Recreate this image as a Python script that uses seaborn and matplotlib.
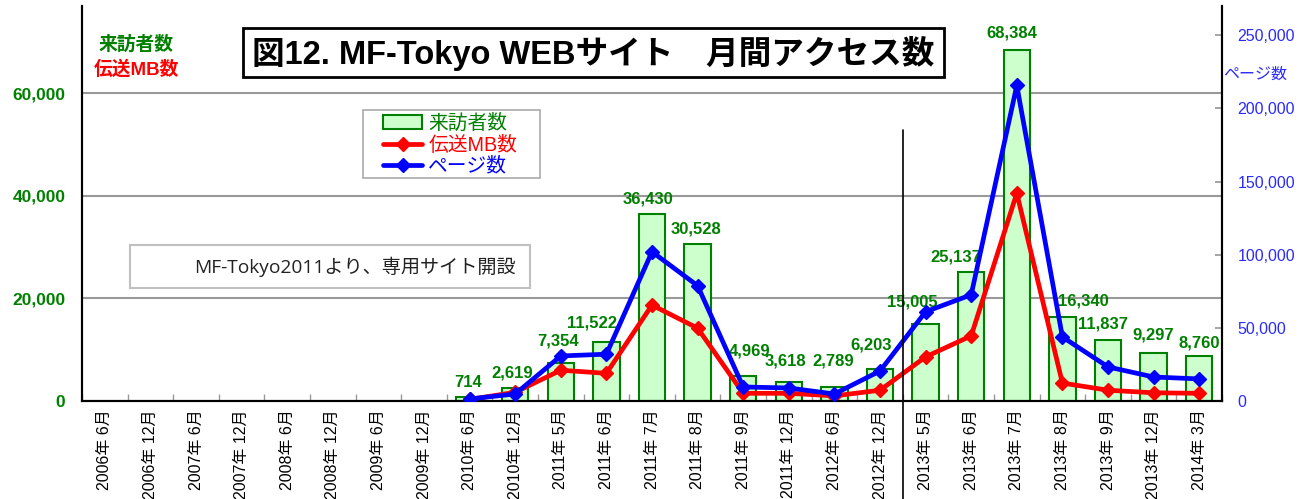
import numpy as np
import pandas as pd
import matplotlib
matplotlib.use("Agg")
import matplotlib.pyplot as plt
import matplotlib.transforms as mtransforms
from matplotlib.patches import Rectangle, Patch
from matplotlib.lines import Line2D
from matplotlib.ticker import FuncFormatter, FixedLocator
import seaborn as sns

# ---------------- data ----------------
categories = ["2006年 6月", "2006年 12月", "2007年 6月", "2007年 12月", "2008年 6月",
              "2008年 12月", "2009年 6月", "2009年 12月", "2010年 6月", "2010年 12月",
              "2011年 5月", "2011年 6月", "2011年 7月", "2011年 8月", "2011年 9月",
              "2011年 12月", "2012年 6月", "2012年 12月", "2013年 5月", "2013年 6月",
              "2013年 7月", "2013年 8月", "2013年 9月", "2013年 12月", "2014年 3月"]
visitors = [np.nan] * 8 + [714, 2619, 7354, 11522, 36430, 30528, 4969, 3618, 2789, 6203,
                           15005, 25137, 68384, 16340, 11837, 9297, 8760]
transfer_mb = [np.nan] * 8 + [300, 1700, 6000, 5400, 18700, 14200, 1500, 1500, 1000, 2100,
                              8600, 12700, 40500, 3500, 2100, 1600, 1500]
page_views = [np.nan] * 8 + [1400, 4800, 30800, 32000, 102000, 78800, 9600, 8900, 4800, 20500,
                             61000, 72600, 215700, 43800, 23300, 16400, 15100]
left_ticks = [0, 20000, 40000, 60000]
right_ticks = [0, 50000, 100000, 150000, 200000, 250000]

title_text = "図12. MF-Tokyo WEBサイト　月間アクセス数"
note_text = "MF-Tokyo2011より、専用サイト開設"
legend_labels = ["来訪者数", "伝送MB数", "ページ数"]

# label offsets (pixels) for the value labels, purely presentational
label_offsets = [(0, 0)] * 8 + [(-1, 15), (-3, 15), (-3, 22), (-14, 19), (-4, 15), (-2, 15),
                                (6, 25), (-3, 21), (-1, 26), (-9, 24), (-13, 22), (-15, 15),
                                (-5, 17), (21, 16), (-5, 16), (0, 18), (0, 13)]

df = pd.DataFrame({"cat": categories, "visitors": visitors,
                   "mb": transfer_mb, "pv": page_views, "idx": np.arange(len(categories))})

# ---------------- style ----------------
sns.set_theme(style="white")
plt.rcParams["font.family"] = ["Liberation Sans", "Noto Sans CJK JP"]

GREEN = "#008000"
FILL = "#ccffcc"
RED = "#ff0000"
BLUE = "#0000ff"
RBLUE = "#2a2aff"

fig = plt.figure(figsize=(13.04, 4.99), dpi=100)
ax = fig.add_axes([82 / 1304, 1 - 401 / 499, 1140 / 1304, 395 / 499])

sns.barplot(data=df, x="cat", y="visitors", order=categories, ax=ax, color=FILL,
            saturation=1, edgecolor=GREEN, linewidth=1.5, width=0.58, errorbar=None)

ax.set_axisbelow(True)
ax.yaxis.grid(True, color="#999999", linewidth=1.5)
ax.xaxis.grid(False)

sub = df.dropna(subset=["mb"])
sns.lineplot(data=sub, x="idx", y="mb", ax=ax, color=RED, linewidth=3.4, marker="D",
             markersize=7.5, markeredgecolor=RED, markeredgewidth=1, zorder=4)

ax2 = ax.twinx()
sns.lineplot(data=sub, x="idx", y="pv", ax=ax2, color=BLUE, linewidth=3.4, marker="D",
             markersize=7.5, markeredgecolor=BLUE, markeredgewidth=1, zorder=4)

n = len(categories)
for a in (ax, ax2):
    a.set_xlim(-0.5, n - 0.5)
    a.set_xlabel("")
    a.set_ylabel("")
ax.set_ylim(0, 77000)
ax2.set_ylim(0, 270000)

# value labels
for i, v in enumerate(visitors):
    if np.isnan(v):
        continue
    dx, dy = label_offsets[i]
    ax.annotate(f"{int(v):,}", xy=(i, v), xytext=(dx, dy), textcoords="offset pixels",
                ha="center", va="center", color=GREEN, fontsize=12, fontweight="bold",
                family=["Liberation Sans"], zorder=6)

# axes / ticks
ax.set_xticks(np.arange(n))
ax.set_xticklabels(categories, rotation=90, fontsize=11.5, color="black")
ax.xaxis.set_minor_locator(FixedLocator(np.arange(-0.5, n, 1.0)))
ax.tick_params(axis="x", which="major", length=0, pad=6)
ax.tick_params(axis="x", which="minor", length=5, direction="in", color="#999999", width=1, bottom=True)

ax.set_yticks(left_ticks)
ax.yaxis.set_major_formatter(FuncFormatter(lambda v, p: f"{int(v):,}"))
ax.tick_params(axis="y", length=5, direction="in", color="#999999", pad=12, labelsize=12.5,
               labelcolor=GREEN)
for t in ax.get_yticklabels():
    t.set_fontweight("bold")

ax2.set_yticks(right_ticks)
ax2.yaxis.set_major_formatter(FuncFormatter(lambda v, p: f"{int(v):,}"))
ax2.tick_params(axis="y", length=5, direction="in", color="#999999", pad=11, labelsize=11.5,
                labelcolor=RBLUE)
ax2.grid(False)

for a in (ax, ax2):
    a.spines["top"].set_visible(False)
    for s in ("left", "right", "bottom"):
        a.spines[s].set_color("black")
        a.spines[s].set_linewidth(1.5)
        a.spines[s].set_visible(True)

# axis captions
fig.text(136 / 1304, 1 - 45 / 499, "来訪者数", color=GREEN, fontsize=13.5, fontweight="bold",
         ha="center", va="center")
fig.text(136 / 1304, 1 - 70 / 499, "伝送MB数", color=RED, fontsize=13.5, fontweight="bold",
         ha="center", va="center")
fig.text(1255 / 1304, 1 - 74 / 499, "ページ数", color=RBLUE, fontsize=11.5,
         ha="center", va="center")

# title box
ax2.add_patch(Rectangle((161 / 1140, (401 - 77) / 395), 701 / 1140, 49 / 395,
                        transform=ax2.transAxes, facecolor="white", edgecolor="black",
                        linewidth=2, zorder=7, clip_on=False))
ax2.text(0.448, (401 - 53) / 395, title_text, transform=ax2.transAxes, ha="center",
         va="center", fontsize=23.5, fontweight="bold", color="black", zorder=8)

# note box
ax2.add_patch(Rectangle((48 / 1140, (401 - 288) / 395), 400 / 1140, 43 / 395,
                        transform=ax2.transAxes, facecolor="white", edgecolor="#c0c0c0",
                        linewidth=1.5, zorder=7))
ax2.text((516 - 82) / 1140, (401 - 267) / 395, note_text, transform=ax2.transAxes,
         ha="right", va="center", fontsize=13.8, color="#222222", zorder=8,
         family=["Open Sans", "Noto Sans CJK JP"])

# separator line between 2012 and 2013
trans = mtransforms.blended_transform_factory(ax2.transData, ax2.transAxes)
ax2.add_line(Line2D([17.5, 17.5], [(401 - 130) / 395, -0.26], transform=trans,
                    color="black", linewidth=1.2, clip_on=False, zorder=9))

# legend (frame drawn as a separate rectangle)
ax2.add_patch(Rectangle(((363 - 82) / 1140, (401 - 178) / 395), 177 / 1140, 68 / 395,
                        transform=ax2.transAxes, facecolor="white", edgecolor="#aaaaaa",
                        linewidth=1.2, zorder=9))
handles = [Patch(facecolor=FILL, edgecolor=GREEN, linewidth=1.5),
           Line2D([], [], color=RED, linewidth=3.4, marker="D", markersize=7.5, markeredgecolor=RED),
           Line2D([], [], color=BLUE, linewidth=3.4, marker="D", markersize=7.5, markeredgecolor=BLUE)]
leg = ax2.legend(handles, legend_labels, loc="upper left",
                 bbox_to_anchor=((383 - 82) / 1140, (401 - 114) / 395),
                 fontsize=14.2, frameon=False, handlelength=2.0, handleheight=0.7,
                 labelspacing=0.12, borderpad=0, handletextpad=0.3, borderaxespad=0,
                 labelcolor=[GREEN, RED, BLUE])
leg.set_zorder(10)

fig.savefig("out.png", dpi=100)
